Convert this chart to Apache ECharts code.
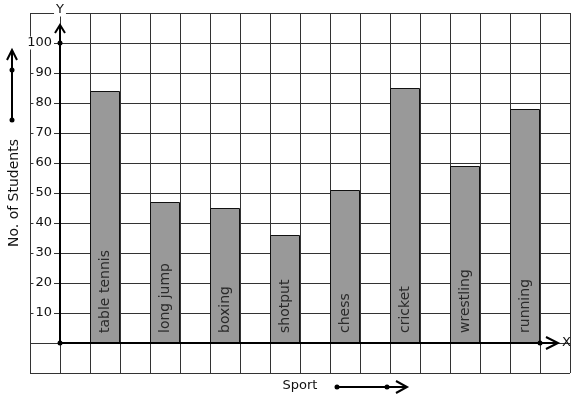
<!DOCTYPE html>
<html>
<head>
<meta charset="utf-8">
<script src="https://cdn.jsdelivr.net/npm/echarts@6/dist/echarts.min.js"></script>
<style>
html, body { margin: 0; padding: 0; background: #fff; }
#main { width: 577px; height: 399px; }
</style>
</head>
<body>
<div id="main"></div>
<script>
var sports = ['table tennis', 'long jump', 'boxing', 'shotput', 'chess', 'cricket', 'wrestling', 'running'];
var students = [84, 47, 45, 36, 51, 85, 59, 78];
var barPos = [1.5, 3.5, 5.5, 7.5, 9.5, 11.5, 13.5, 15.5];
var yLabels = [10, 20, 30, 40, 50, 60, 70, 80, 90, 100];

var font = 'DejaVu Sans';
var myChart = echarts.init(document.getElementById('main'));

var barData = [];
for (var i = 0; i < sports.length; i++) {
    barData.push([barPos[i], students[i]]);
}

var option = {
    animation: false,
    grid: { left: 30, top: 13, width: 540, height: 360, outerBoundsMode: 'none', containLabel: false },
    xAxis: {
        type: 'value',
        min: -1, max: 17, interval: 1,
        name: 'Sport',
        nameLocation: 'middle',
        nameGap: 6,
        nameTextStyle: { fontFamily: font, fontSize: 13, color: '#111' },
        axisLine: { show: false, onZero: false },
        axisTick: { show: false },
        axisLabel: { show: false },
        splitLine: { show: true, lineStyle: { color: '#333', width: 1 } }
    },
    yAxis: {
        type: 'value',
        min: -10, max: 110, interval: 10,
        axisLine: { show: false, onZero: false },
        axisTick: { show: false },
        axisLabel: {
            inside: true,
            margin: 24,
            align: 'right',
            fontFamily: font,
            fontSize: 13,
            color: '#111',
            backgroundColor: '#fff',
            padding: [0, 2, 0, 2],
            formatter: function (v) {
                return yLabels.indexOf(v) >= 0 ? String(v) : '';
            }
        },
        splitLine: { show: true, lineStyle: { color: '#333', width: 1 } }
    },
    series: [{
        type: 'bar',
        data: barData,
        barWidth: 30,
        itemStyle: { color: '#999999', borderColor: '#111', borderWidth: 1 },
        label: {
            show: true,
            position: 'insideBottom',
            rotate: 90,
            align: 'left',
            verticalAlign: 'middle',
            distance: 10,
            fontFamily: font,
            fontSize: 14,
            color: '#2a2a2a',
            formatter: function (p) { return sports[p.dataIndex]; }
        }
    }]
};

myChart.setOption(option);

// axes with arrows, drawn through the chart scales
var o = myChart.convertToPixel({ xAxisIndex: 0, yAxisIndex: 0 }, [0, 0]);
var xDot = myChart.convertToPixel({ xAxisIndex: 0, yAxisIndex: 0 }, [16, 0]);
var xTip = myChart.convertToPixel({ xAxisIndex: 0, yAxisIndex: 0 }, [16.6, 0]);
var yDot = myChart.convertToPixel({ xAxisIndex: 0, yAxisIndex: 0 }, [0, 100]);
var yTip = myChart.convertToPixel({ xAxisIndex: 0, yAxisIndex: 0 }, [0, 106]);
var yMid = myChart.convertToPixel({ xAxisIndex: 0, yAxisIndex: 0 }, [-1, 50]);

var black = { stroke: '#000', lineWidth: 2, fill: null };
function dot(x, y) {
    return { type: 'circle', shape: { cx: x, cy: y, r: 2.5 }, style: { fill: '#000' }, z: 100 };
}
function line(pts) {
    return { type: 'polyline', shape: { points: pts }, style: black, z: 100 };
}

myChart.setOption({
    graphic: [
        // y axis title
        { type: 'text', x: yMid[0] - 16, y: yMid[1], rotation: Math.PI / 2, z: 100,
          style: { text: 'No. of Students', fontFamily: font, fontSize: 14, fill: '#111',
                   align: 'center', verticalAlign: 'middle' } },
        // X axis
        line([o, xTip]),
        line([[xTip[0] - 12, xTip[1] - 6], xTip, [xTip[0] - 12, xTip[1] + 6]]),
        dot(o[0], o[1]),
        dot(xDot[0], xDot[1]),
        { type: 'text', x: xTip[0] + 4, y: xTip[1], z: 100,
          style: { text: 'X', fontFamily: font, fontSize: 13, fill: '#111', verticalAlign: 'middle' } },
        // Y axis
        line([o, yTip]),
        line([[yTip[0] - 5, yTip[1] + 8], yTip, [yTip[0] + 5, yTip[1] + 8]]),
        dot(yDot[0], yDot[1]),
        { type: 'text', x: yTip[0], y: 10, z: 100,
          style: { text: 'Y', fontFamily: font, fontSize: 13, fill: '#111', align: 'center',
                   verticalAlign: 'middle', backgroundColor: '#fff', padding: [0, 2] } },
        // left direction arrow
        line([[12, 120], [12, 51]]),
        line([[7, 60], [12, 50], [17, 60]]),
        dot(12, 120),
        dot(12, 70),
        // bottom direction arrow
        line([[337, 387], [406, 387]]),
        line([[396, 381], [407, 387], [396, 393]]),
        dot(337, 387),
        dot(387, 387)
    ]
});

window.addEventListener('resize', function () {
    myChart.resize();
});
</script>
</body>
</html>
